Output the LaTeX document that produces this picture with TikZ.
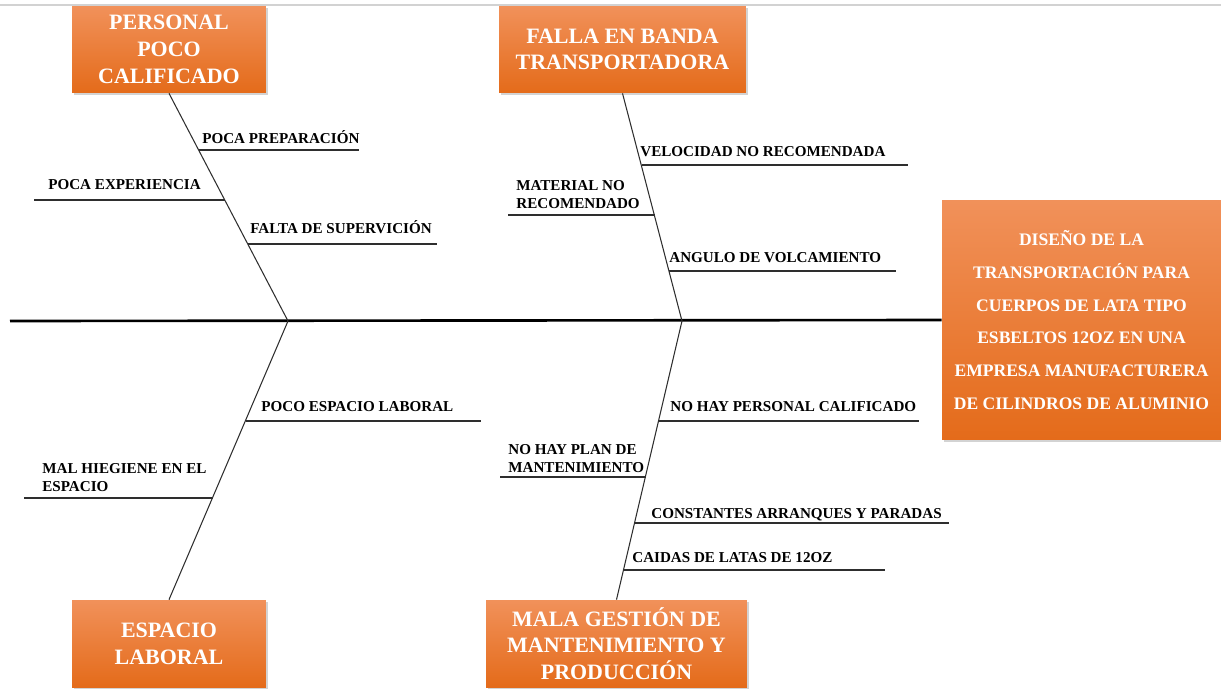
\documentclass[tikz,border=0pt]{standalone}
\usepackage{fontspec}
\setmainfont{Liberation Serif}
\usetikzlibrary{positioning,calc,shadows}
\definecolor{BoneGray}{HTML}{2E2E2E}
\definecolor{CaseTop}{HTML}{F1915A}
\definecolor{CaseMid}{HTML}{F27A2A}
\definecolor{CaseBot}{HTML}{E46B1A}
\tikzset{
  catbox/.style={rectangle, top color=CaseTop, middle color=CaseMid, bottom color=CaseBot,
    text=white, align=center, inner sep=2pt, minimum height=1.74cm,
    font=\bfseries\fontsize{12.5}{15.2}\selectfont,
    drop shadow={opacity=0.35, shadow xshift=1.4pt, shadow yshift=-1.4pt}},
  headbox/.style={catbox, font=\bfseries\fontsize{10}{18.7}\selectfont},
  cause/.style={inner sep=0pt, anchor=south west, align=left, text=black,
    font=\bfseries\fontsize{8.6}{10.2}\selectfont},
  spine/.style={draw=black, line width=1.5pt},
  bone/.style={draw=BoneGray, line width=0.6pt},
  rib/.style={draw=BoneGray, line width=0.8pt}
}

\begin{document}
\begin{tikzpicture}[x=0.02cm, y=-0.02cm]
\useasboundingbox (0,0) rectangle (1221,694);
\draw[gray!35, line width=0.6pt] (0,5) -- (1221,5);

% effect and categories
\node[headbox, minimum width=5.58cm, minimum height=4.8cm] (effect) at (1081.5,320)
  {DISEÑO DE LA\\TRANSPORTACIÓN PARA\\CUERPOS DE LATA TIPO\\ESBELTOS 12OZ EN UNA\\EMPRESA MANUFACTURERA\\DE CILINDROS DE ALUMINIO};
\node[catbox, minimum width=3.88cm] (personal) at (169,49.5) {PERSONAL\\POCO\\CALIFICADO};
\node[catbox, minimum width=4.94cm] (banda) at (622.5,49.5) {FALLA EN BANDA\\TRANSPORTADORA};
\node[catbox, minimum width=3.88cm] (espacio) at (169,643.5) {ESPACIO\\LABORAL};
\node[catbox, minimum width=5.22cm] (gestion) at (616.5,643.5) {MALA GESTIÓN DE\\MANTENIMIENTO Y\\PRODUCCIÓN};

% spine and bones
\coordinate (tail) at (10,321);
\coordinate (j1) at (288,321);
\coordinate (j2) at (682,321);
\draw[spine] (tail) -- (effect.west);
\draw[bone] (personal.south) -- (j1);
\draw[bone] (j1) -- (espacio.north);
\draw[bone] (banda.south) -- (j2);
\draw[bone] (j2) -- (gestion.north);

% personal poco calificado
\coordinate (p1a) at (199,150); \coordinate (p1b) at (359,150);
\coordinate (p2a) at (34,200);  \coordinate (p2b) at (225,200);
\coordinate (p3a) at (248,244); \coordinate (p3b) at (437,244);
\draw[rib] (p1a) -- (p1b);
\draw[rib] (p2a) -- (p2b);
\draw[rib] (p3a) -- (p3b);
\node[cause] (p1) at (202,144) {POCA PREPARACIÓN};
\node[cause] (p2) at (48,190) {POCA EXPERIENCIA};
\node[cause] (p3) at (250,234) {FALTA DE SUPERVICIÓN};

% falla en banda transportadora
\coordinate (f1a) at (641.5,165); \coordinate (f1b) at (908,165);
\coordinate (f2a) at (508,215);   \coordinate (f2b) at (654.5,215);
\coordinate (f3a) at (669,271);   \coordinate (f3b) at (896,271);
\draw[rib] (f1a) -- (f1b);
\draw[rib] (f2a) -- (f2b);
\draw[rib] (f3a) -- (f3b);
\node[cause] (f1) at (640,157) {VELOCIDAD NO RECOMENDADA};
\node[cause] (f2) at (516,209) {MATERIAL NO\\RECOMENDADO};
\node[cause] (f3) at (669,263) {ANGULO DE VOLCAMIENTO};

% espacio laboral
\coordinate (e1a) at (245.5,421); \coordinate (e1b) at (481,421);
\coordinate (e2a) at (24,498);    \coordinate (e2b) at (212.5,498);
\draw[rib] (e1a) -- (e1b);
\draw[rib] (e2a) -- (e2b);
\node[cause] (e1) at (261,412) {POCO ESPACIO LABORAL};
\node[cause] (e2) at (42,492) {MAL HIEGIENE EN EL\\ESPACIO};

% mala gestion de mantenimiento y produccion
\coordinate (g1a) at (658.5,421); \coordinate (g1b) at (919,421);
\coordinate (g2a) at (500,477);   \coordinate (g2b) at (645.5,477);
\coordinate (g3a) at (634.5,523); \coordinate (g3b) at (949,523);
\coordinate (g4a) at (623.5,570); \coordinate (g4b) at (885,570);
\draw[rib] (g1a) -- (g1b);
\draw[rib] (g2a) -- (g2b);
\draw[rib] (g3a) -- (g3b);
\draw[rib] (g4a) -- (g4b);
\node[cause] (g1) at (670,412) {NO HAY PERSONAL CALIFICADO};
\node[cause] (g2) at (508,473) {NO HAY PLAN DE\\MANTENIMIENTO};
\node[cause] (g3) at (651,521.5) {CONSTANTES ARRANQUES Y PARADAS};
\node[cause] (g4) at (632,563) {CAIDAS DE LATAS DE 12OZ};
\end{tikzpicture}
\end{document}
